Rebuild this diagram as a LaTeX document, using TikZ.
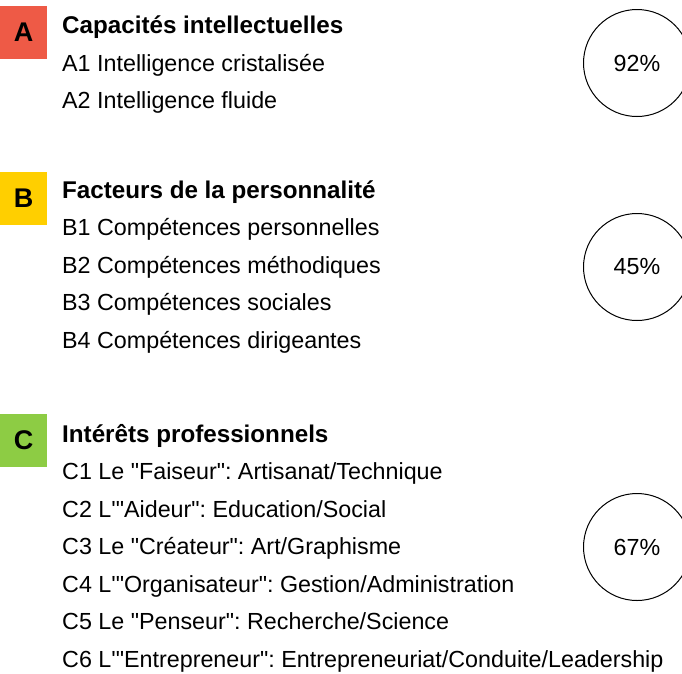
\documentclass[tikz,border=0pt]{standalone}
\usepackage{fontspec}
\setmainfont{Liberation Sans}[Ligatures=TeXOff]
\usepackage{tikz}
\definecolor{profred}{RGB}{238,90,70}
\definecolor{profyellow}{RGB}{255,207,0}
\definecolor{profgreen}{RGB}{141,204,68}
\newcommand{\itemfont}  {\fontsize{23.3}{28}\selectfont}
\newcommand{\headfont}  {\fontsize{24.2}{29}\bfseries\selectfont}
\frenchspacing

\begin{document}
\begin{tikzpicture}[x=1pt,y=-1pt,
    catbox/.style={inner sep=0pt,outer sep=0pt,minimum width=47pt,minimum height=53pt,
                   font=\fontsize{27}{30}\bfseries\selectfont},
    head/.style={anchor=base west,inner sep=0pt,font=\headfont},
    line/.style={anchor=base west,inner sep=0pt,font=\itemfont},
    score/.style={draw,circle,line width=1pt,minimum size=107pt,inner sep=0pt,font=\itemfont}]
     \useasboundingbox (0,0) rectangle (682,673);
     % A
     \node[catbox,fill=profred] (boxA) at (23.5,32.5) {A};
     \node[head] (headA) at (62,33.5)  {Capacités intellectuelles};
     \node[line] (A1)    at (62,71)    {A1 Intelligence cristalisée};
     \node[line] (A2)    at (62,108.5) {A2 Intelligence fluide};
     \node[score] (scoreA) at (637,63) {92\%};
     % B
     \node[catbox,fill=profyellow] (boxB) at (23.5,198.5) {B};
     \node[head] (headB) at (62,198)   {Facteurs de la personnalité};
     \node[line] (B1)    at (62,235.5) {B1 Compétences personnelles};
     \node[line] (B2)    at (62,273)   {B2 Compétences méthodiques};
     \node[line] (B3)    at (62,310.5) {B3 Compétences sociales};
     \node[line] (B4)    at (62,348)   {B4 Compétences dirigeantes};
     \node[score] (scoreB) at (637,267) {45\%};
     % C
     \node[catbox,fill=profgreen] (boxC) at (23.5,440.5) {C};
     \node[head] (headC) at (62,442)   {Intérêts professionnels};
     \node[line] (C1)    at (62,479.5) {C1 Le "Faiseur": Artisanat/Technique};
     \node[line] (C2)    at (62,517)   {C2 L'"Aideur": Education/Social};
     \node[line] (C3)    at (62,554.5) {C3 Le "Créateur": Art/Graphisme};
     \node[line] (C4)    at (62,592)   {C4 L'"Organisateur": Gestion/Administration};
     \node[line] (C5)    at (62,629.5) {C5 Le "Penseur": Recherche/Science};
     \node[line] (C6)    at (62,667)   {C6 L'"Entrepreneur": Entrepreneuriat/Conduite/Leadership};
     \node[score] (scoreC) at (637,547) {67\%};
\end{tikzpicture}
\end{document}
